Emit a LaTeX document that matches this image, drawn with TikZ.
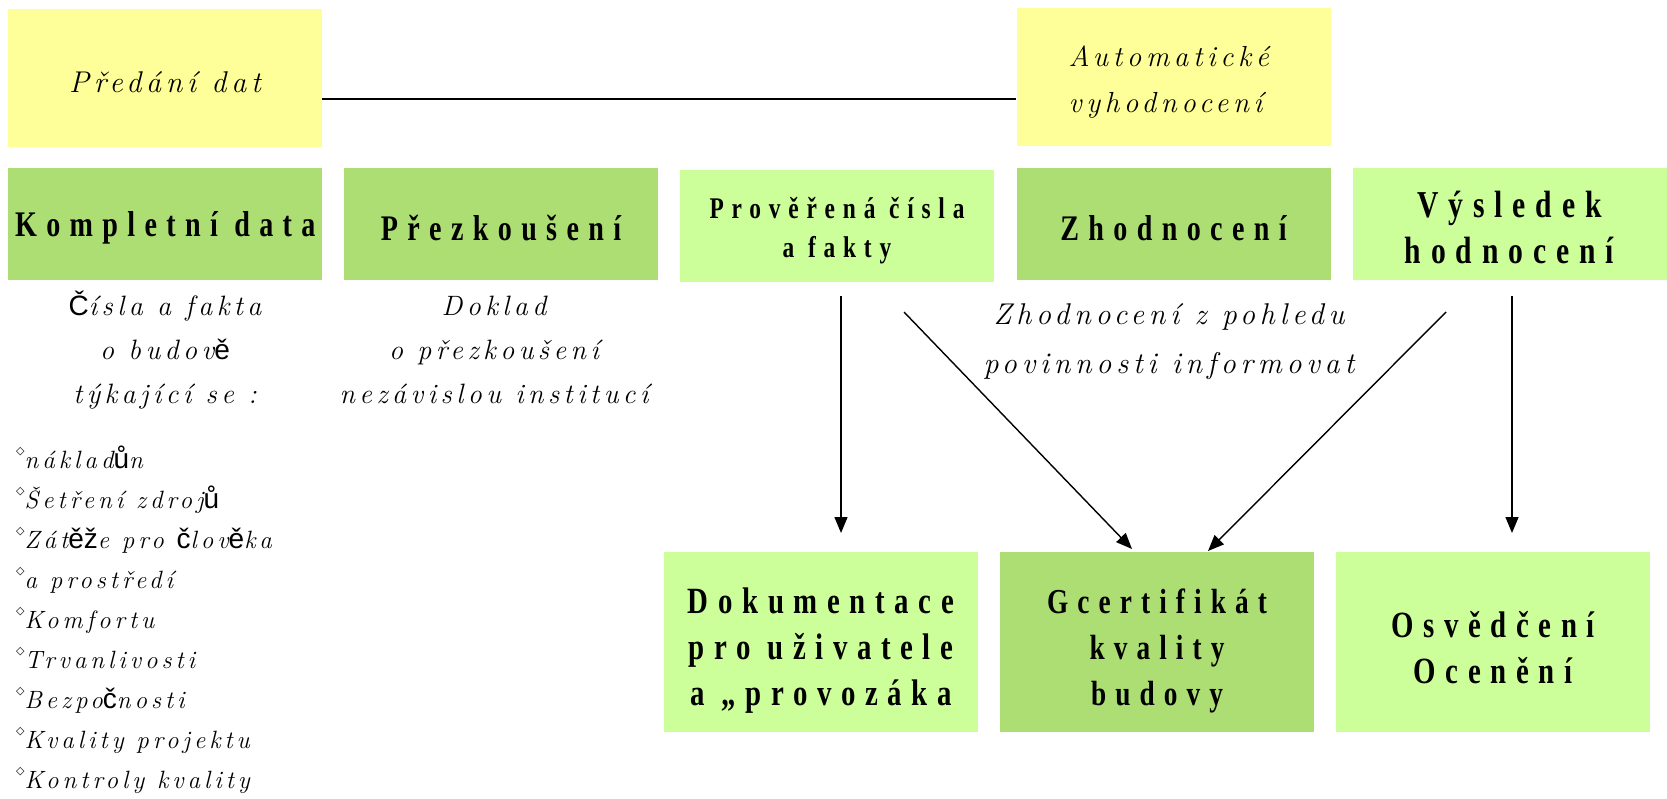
\documentclass[tikz,border=0pt]{standalone}
\usepackage{fontspec}
\usetikzlibrary{arrows.meta}
\newfontfamily\boxfnt[FakeStretch=0.78,LetterSpace=26]{Liberation Serif}
\newfontfamily\scrfnt[LetterSpace=16]{Latin Modern Roman}
\newfontfamily\fbfnt{Liberation Sans}
\newfontfamily\djvfnt{DejaVu Sans}
\newcommand\fb[1]{{\fbfnt\upshape\fontsize{28}{28}\selectfont #1}}
\newcommand\dia{\raisebox{1.3ex}{\djvfnt\fontsize{11}{11}\selectfont ◇}}
\newcommand\lift[1]{\rule{0pt}{#1pt}}
\definecolor{yel}{HTML}{FFFF99}
\definecolor{dg}{HTML}{ADDE73}
\definecolor{lg}{HTML}{CCFF99}
\tikzset{
  topbox/.style={fill=yel, minimum width=314pt, minimum height=138pt, inner sep=0pt},
  midbox/.style={minimum width=314pt, minimum height=112pt, inner sep=0pt, align=center,
    font=\boxfnt\bfseries\fontsize{36}{44}\selectfont},
  lowbox/.style={minimum width=314pt, minimum height=180pt, inner sep=0pt, align=center,
    font=\boxfnt\bfseries\fontsize{37}{46}\selectfont},
  scr/.style={inner sep=0pt, align=center, font=\scrfnt\itshape\fontsize{28}{44}\selectfont},
  arr/.style={line width=1.4pt, -{Triangle[length=16pt,width=13pt]}},
  conn/.style={line width=1.6pt}
}
\begin{document}
\begin{tikzpicture}[x=1pt,y=-1pt]
\useasboundingbox (0,0) rectangle (1667,799);
% top row
\node[topbox] (pd) at (165,78) {};
\node[topbox] (av) at (1173.5,77) {};
\node[scr, anchor=base, font=\scrfnt\itshape\fontsize{30}{44}\selectfont] (pdt) at ([yshift=-15pt]pd.center) {Předání dat};
\node[scr, align=left, anchor=west, font=\scrfnt\itshape\fontsize{29}{46}\selectfont] (avt) at ([xshift=-105pt,yshift=-5pt]av.center) {Automatické\\vyhodnocení};
\draw[conn] ([yshift=48pt]pd.south east) -- ([yshift=47pt]av.south west);
% middle row
\node[midbox, fill=dg] (kd) at (165.25,224) {\lift{33}Kompletní data};
\node[midbox, fill=dg] (pz) at (501,224) {\lift{33}Přezkoušení};
\node[midbox, fill=lg, font=\boxfnt\bfseries\fontsize{30}{39}\selectfont] (pc) at (837,226) {\lift{31}Prověřená čísla\\a fakty};
\node[midbox, fill=dg] (zh) at (1173.5,224) {\lift{33}Zhodnocení};
\node[midbox, fill=lg, font=\boxfnt\bfseries\fontsize{38}{46}\selectfont] (vh) at (1509.5,224) {\lift{34}Výsledek\\hodnocení};
% lower row
\node[lowbox, fill=lg] (dk) at (821,642) {\lift{43}Dokumentace\\pro uživatele\\a „provozáka};
\node[lowbox, fill=dg, font=\boxfnt\bfseries\fontsize{35}{46}\selectfont] (gc) at (1157,642) {\lift{42}Gcertifikát\\kvality\\budovy};
\node[lowbox, fill=lg] (os) at (1493,642) {\lift{38}Osvědčení\\Ocenění};
% texts
\node[scr] (t1) at (165,350) {\fb{Č}ísla a fakta\\o budov\fb{ě}\\týkající se :};
\node[scr] (t2) at (494,350) {Doklad\\o přezkoušení\\nezávislou institucí};
\node[scr, font=\scrfnt\itshape\fontsize{30}{49}\selectfont] (t3) at (1169,342) {Zhodnocení z pohledu\\povinnosti informovat};
\node[scr, align=left, anchor=north west, font=\scrfnt\itshape\fontsize{25}{40}\selectfont] (ls) at (16,446)
 {\dia nákla\,d\fb{ů}n\\
  \dia Šetření zdroj\fb{ů}\\
  \dia Zát\fb{ěž}e pro \fb{č}lov\fb{ě}ka\\
  \dia a prostředí\\
  \dia Komfortu\\
  \dia Trvanlivosti\\
  \dia Bezpo\fb{č}nosti\\
  \dia Kvality projektu\\
  \dia Kontroly kvality};
% arrows
\coordinate (a1s) at (841,296); \coordinate (a1e) at (841,533);
\coordinate (a2s) at (904,312); \coordinate (a2e) at (1132,549);
\coordinate (a3s) at (1446,312); \coordinate (a3e) at (1208,551);
\coordinate (a4s) at (1512,296); \coordinate (a4e) at (1512,533);
\draw[arr] (a1s) -- (a1e);
\draw[arr] (a2s) -- (a2e);
\draw[arr] (a3s) -- (a3e);
\draw[arr] (a4s) -- (a4e);
\end{tikzpicture}
\end{document}
